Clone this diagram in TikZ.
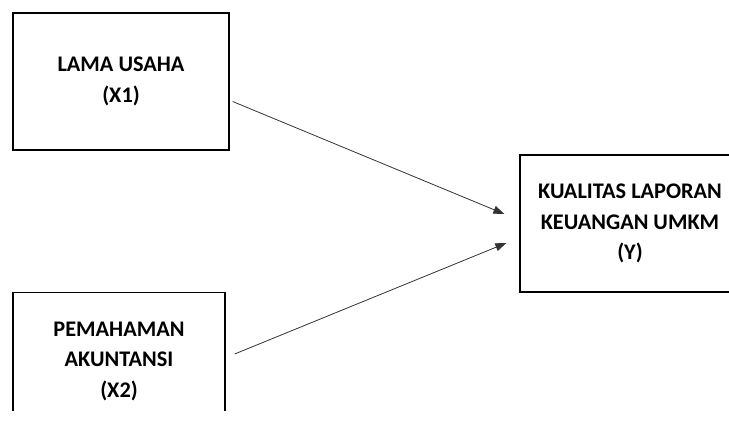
\documentclass[tikz,border=0pt]{standalone}
\usepackage{fontspec}
\setmainfont{Carlito}
\usetikzlibrary{arrows.meta}
\begin{document}
\begin{tikzpicture}[x=1pt, y=-1pt,
  var/.style={rectangle, draw, line width=1.3pt, minimum width=216pt, minimum height=137pt, align=center, inner sep=0pt, font=\bfseries\fontsize{22.3}{30.5}\selectfont},
  link/.style={-{Triangle[length=11pt,width=8pt]}, line width=0.8pt, draw=black!80}]

\useasboundingbox (0,0) rectangle (729,421);

\node[var] (x1) at (121,81.5) {LAMA USAHA\\(X1)};
\begin{scope}
  \clip (0,0) rectangle (729,410);
  \node[var, minimum width=212pt] (x2) at (119,361) {PEMAHAMAN\\AKUNTANSI\\(X2)};
\end{scope}
\node[var, minimum width=220pt] (y) at (630,223.5) {KUALITAS LAPORAN\\KEUANGAN UMKM\\(Y)};

\draw[link] ([xshift=3pt,yshift=-20pt]x1.east) -- ([xshift=-15pt,yshift=9.5pt]y.west);
\draw[link] ([xshift=9pt,yshift=7pt]x2.east) -- ([xshift=-13pt,yshift=-19.5pt]y.west);

\end{tikzpicture}
\end{document}
